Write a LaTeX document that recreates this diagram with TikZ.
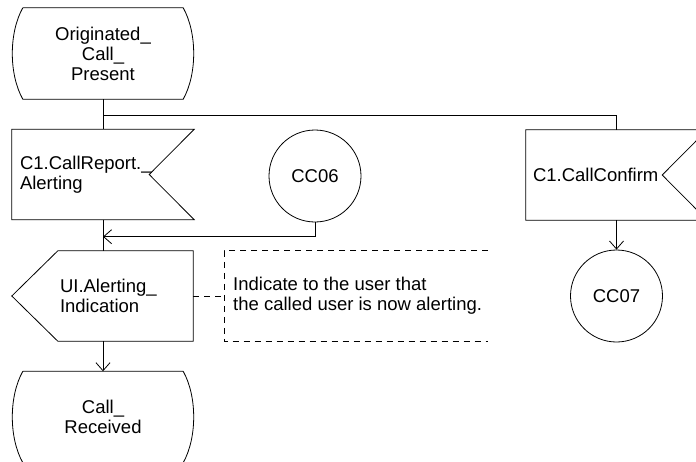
\documentclass[tikz,border=0pt]{standalone}
\usepackage{fontspec}
\setmainfont{Liberation Sans}
\usetikzlibrary{arrows.meta,positioning,calc}

\begin{document}
\begin{tikzpicture}[
  x=1pt, y=-1pt,
  sdltext/.style={font=\fontsize{18.5}{20}\selectfont, inner sep=0pt},
  state/.style={sdltext, align=center, minimum width=160pt, minimum height=91pt},
  signal/.style={sdltext, align=left, minimum height=90pt},
  conn/.style={sdltext, circle, draw, line width=0.8pt, minimum size=92pt},
  line/.style={line width=0.8pt},
  arrow/.style={line, -{Straight Barb[length=8pt, width=14pt]}},
  comment/.style={line, dash pattern=on 6pt off 5pt}
]
\clip (0,0) rectangle (696,461);

% States
\node[state] (ocp) at (103,53.5) {Originated\_\\Call\_\\Present};
\draw[line] (ocp.north west) -- (ocp.north east)
  .. controls +(14,25) and +(14,-25) .. (ocp.south east) -- (ocp.south west)
  .. controls +(-14,-25) and +(-14,25) .. (ocp.north west);

\node[state] (recv) at (103,417) {Call\_\\Received};
\draw[line] (recv.north west) -- (recv.north east)
  .. controls +(14,25) and +(14,-25) .. (recv.south east) -- (recv.south west)
  .. controls +(-14,-25) and +(-14,25) .. (recv.north west);

% Input signals
\node[signal, minimum width=182pt, text width=166pt] (report) at (103,174.5) {C1.CallReport.\_\\Alerting};
\draw[line] (report.north west) -- (report.north east) -- ($(report.east)+(-45,0)$)
  -- (report.south east) -- (report.south west) -- cycle;

\node[signal, minimum width=181pt, text width=167pt] (confirm) at (616.5,175) {C1.CallConfirm};
\draw[line] (confirm.north west) -- (confirm.north east) -- ($(confirm.east)+(-45,0)$)
  -- (confirm.south east) -- (confirm.south west) -- cycle;

% Output signal
\node[signal, minimum width=135pt, text width=131pt] (alert) at (125.5,296) {UI.Alerting\_\\Indication};
\draw[line] (alert.north west) -- (alert.north east) -- (alert.south east)
  -- (alert.south west) -- ($(alert.west)+(-46,0)$) -- cycle;

% Comment
\node[signal, anchor=west, inner xsep=9pt] (note) at (224,296)
  {Indicate to the user that\\the called user is now alerting.};
\draw[comment] ($(note.north west)+(264,0)$) -- (note.north west) -- (note.south west) -- ++(264,0);
\draw[comment] (alert.east) -- (note.west);

% Connectors
\node[conn] (cc06) at (315,176) {CC06};
\node[conn] (cc07) at (616.5,296) {CC07};

% Flow lines
\coordinate (fork) at ($(ocp.south)+(0,16)$);
\coordinate (join) at ($(report.south)+(0,17)$);
\draw[line] (ocp.south) -- (report.north);
\draw[line] (fork) -| (confirm.north);
\draw[line] (report.south) -- (report.south |- alert.north);
\draw[arrow] (cc06.south) |- (join);
\draw[arrow] (report.south |- alert.south) -- (recv.north);
\draw[arrow] (confirm.south) -- (cc07.north);

\end{tikzpicture}
\end{document}
